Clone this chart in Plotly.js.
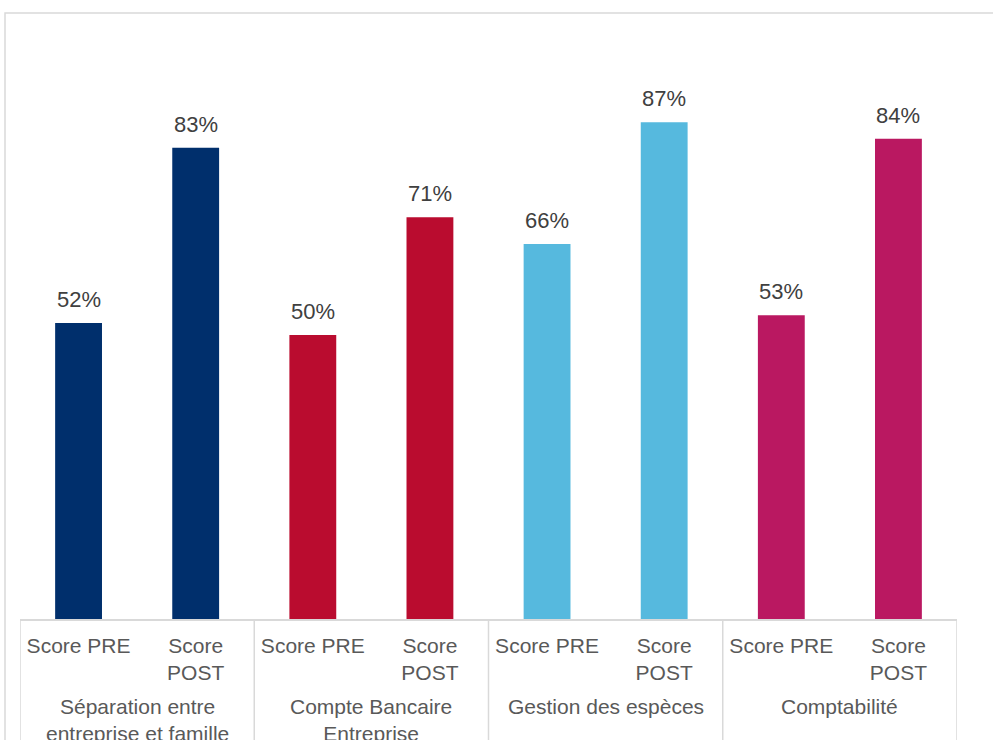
<!DOCTYPE html>
<html>
<head>
<meta charset="utf-8">
<script src="https://cdn.plot.ly/plotly-3.0.1.min.js"></script>
<style>
  html, body { margin: 0; padding: 0; background: #ffffff; }
  #chart { width: 993px; height: 740px; }
</style>
</head>
<body>
<div id="chart"></div>
<script>
const groups = [
  "Séparation entre<br>entreprise et famille",
  "Compte Bancaire<br>Entreprise",
  "Gestion des espèces",
  "Comptabilité"
];
const phases = ["Score PRE", "Score<br>POST"];
const preScores = [52.0, 49.9, 65.9, 53.4];
const postScores = [82.8, 70.6, 87.3, 84.4];
const groupColors = ["#002F6C", "#BA0C2F", "#56B9DE", "#BA1861"];

const FONT = "Liberation Sans, Arial, sans-serif";
const pos = [], inner = [], vals = [], cols = [];
groups.forEach((g, i) => {
  phases.forEach((p, j) => {
    pos.push(i * phases.length + j);
    inner.push(p);
    vals.push(j === 0 ? preScores[i] : postScores[i]);
    cols.push(groupColors[i]);
  });
});

const trace = {
  type: "bar",
  x: pos,
  y: vals,
  width: 0.4,
  marker: { color: cols },
  text: vals.map(v => Math.round(v) + "%"),
  textposition: "none",
  hoverinfo: "skip"
};

const annotations = [];
// value labels above bars
vals.forEach((v, i) => {
  annotations.push({
    x: pos[i], xref: "x", y: v, yref: "y",
    text: Math.round(v) + "%",
    showarrow: false, yanchor: "bottom", yshift: 9,
    font: { family: FONT, size: 22, color: "#404040" }
  });
});
// group labels (second row of the category axis)
groups.forEach((g, i) => {
  annotations.push({
    x: i * phases.length + (phases.length - 1) / 2, xref: "x",
    y: 0, yref: "paper",
    text: g, showarrow: false, yanchor: "top", yshift: -74,
    font: { family: FONT, size: 21, color: "#595959" }
  });
});

// dividers between groups in the axis label area
const shapes = [];
for (let i = 0; i <= groups.length; i++) {
  shapes.push({
    type: "line", xref: "x", yref: "paper",
    x0: i * phases.length - 0.5, x1: i * phases.length - 0.5,
    y0: 0, y1: -0.3,
    line: { color: "#D9D9D9", width: 1.5 }
  });
}
// outer frame
shapes.push({
  type: "rect", xref: "paper", yref: "paper",
  x0: -0.016, x1: 1.2, y0: -0.5, y1: 1.065,
  line: { color: "#D9D9D9", width: 1.5 },
  fillcolor: "rgba(0,0,0,0)", layer: "below"
});

const layout = {
  width: 993,
  height: 740,
  margin: { l: 20, r: 36, t: 50, b: 121 },
  paper_bgcolor: "#ffffff",
  plot_bgcolor: "#ffffff",
  showlegend: false,
  font: { family: FONT, size: 21, color: "#595959" },
  xaxis: {
    range: [-0.5, pos.length - 0.5],
    tickmode: "array",
    tickvals: pos,
    ticktext: inner,
    showline: true,
    linecolor: "#D9D9D9",
    linewidth: 1.5,
    ticks: "",
    ticklabelstandoff: 7,
    tickfont: { family: FONT, size: 21, color: "#595959" },
    showgrid: false,
    zeroline: false,
    fixedrange: true
  },
  yaxis: {
    range: [0, 100],
    visible: false,
    showgrid: false,
    zeroline: false,
    fixedrange: true
  },
  shapes: shapes,
  annotations: annotations
};

Plotly.newPlot("chart", [trace], layout, { displayModeBar: false, staticPlot: true });
</script>
</body>
</html>
